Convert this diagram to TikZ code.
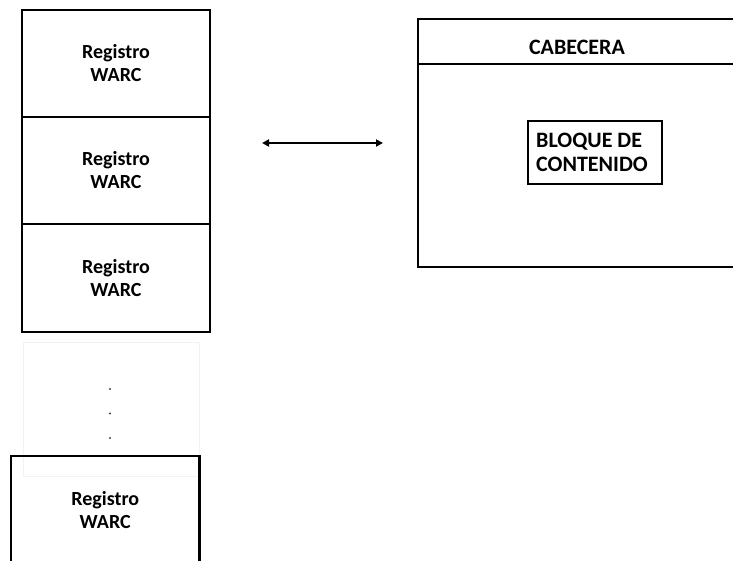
\documentclass[tikz,border=0pt]{standalone}
\usepackage{fontspec}
\setmainfont{Carlito}
\usetikzlibrary{arrows.meta}
\begin{document}
\begin{tikzpicture}[x=1pt,y=-1pt,
  lbl/.style={font=\fontsize{20}{23}\selectfont\bfseries, align=center, inner sep=0pt},
  biglbl/.style={lbl, font=\fontsize{22}{24}\selectfont\bfseries},
  rec/.style={draw, line width=2.5pt, minimum width=188pt, minimum height=107pt, inner sep=0pt},
  frame/.style={draw, line width=2.5pt, minimum width=318pt, inner sep=0pt},
  dot/.style={circle, fill=black!75, minimum size=2.2pt, inner sep=0pt}]
\useasboundingbox (0,0) rectangle (733,561);
\clip (0,0) rectangle (733,561);

% stack of WARC records
\node[rec] (r1) at (116,63.5) {};
\node[rec] (r2) at (116,170.5) {};
\node[rec, minimum height=108pt] (r3) at (116,278) {};
\node[lbl] at (r1) {Registro\\WARC};
\node[lbl] at (r2) {Registro\\WARC};
\node[lbl] at (r3) {Registro\\WARC};

% faint box holding the ellipsis
\node[draw=black!5, line width=0.6pt, minimum width=176pt, minimum height=134pt, inner sep=0pt] (gap) at (111,409) {};
\node[dot] (d1) at (110,389) {};
\node[dot] (d2) at (110,413.5) {};
\node[dot] (d3) at (110,438) {};

% last record
\node[rec, minimum width=188.5pt, minimum height=108pt] (r4) at (105.25,510) {};
\node[lbl] at (r4) {Registro\\WARC};

% record structure: header and content
\node[frame, minimum height=45pt] (cab) at (577,41.5) {};
\node[biglbl, yshift=-6pt] at (cab) {CABECERA};
\node[frame, minimum height=203pt] (body) at (577,165.5) {};
\node[draw, line width=2pt, minimum width=134pt, minimum height=63pt, inner sep=0pt] (blk) at (595,152.5) {};
\node[biglbl, align=left, anchor=west] at ([xshift=9pt]blk.west) {BLOQUE DE\\CONTENIDO};

% link between the two views
\coordinate (a1) at (262,143);
\coordinate (a2) at (383,143);
\draw[line width=2pt, {Triangle[length=7pt,width=7pt]}-{Triangle[length=7pt,width=7pt]}] (a1) -- (a2);
\end{tikzpicture}
\end{document}
